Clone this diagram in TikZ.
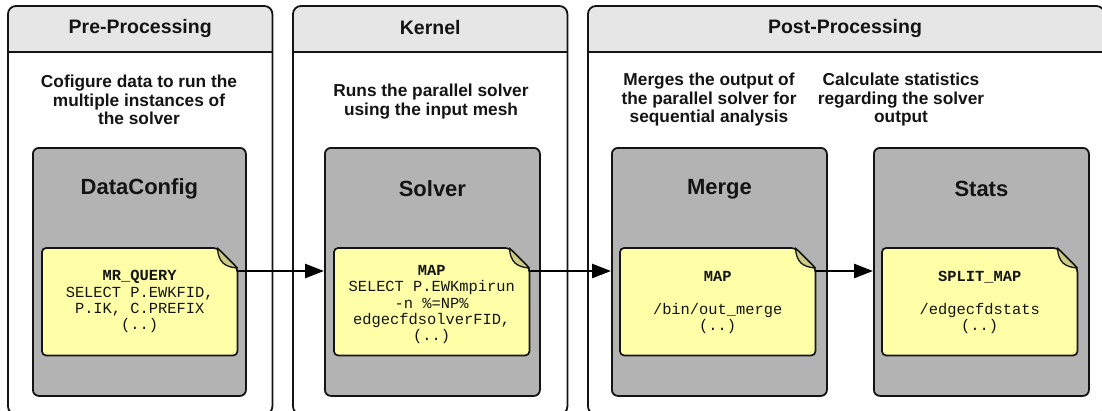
\documentclass[tikz,border=0pt]{standalone}
\usepackage{fontspec}
\setmainfont{Liberation Sans}
\setmonofont{Liberation Mono}
\usetikzlibrary{arrows.meta,calc}

\definecolor{headgray}{HTML}{E6E6E6}
\definecolor{boxgray}{HTML}{B3B3B3}
\definecolor{noteyellow}{HTML}{FFFFA8}
\definecolor{foldolive}{HTML}{CCCC88}
\definecolor{ink}{HTML}{141414}

% folded-corner note drawn around a placeholder node
\newcommand{\dogearnote}[1]{%
  \draw[noteline] (#1.north west) -- ($(#1.north east)+(-20,0)$)
        -- ($(#1.north east)+(0,20)$) -- (#1.south east) -- (#1.south west) -- cycle;
  \draw[foldline] ($(#1.north east)+(-20,0)$)
        .. controls ($(#1.north east)+(-19,14)$) and ($(#1.north east)+(-13,19)$)
        .. ($(#1.north east)+(0,20)$) -- cycle;
}

\begin{document}
\begin{tikzpicture}[x=1pt,y=-1pt,
  lanebg/.style={fill=white, draw=none, inner sep=0pt, anchor=north west, minimum height=408pt},
  laneborder/.style={draw=ink, line width=1.8pt, rounded corners=8pt},
  headrule/.style={draw=ink, line width=1.6pt},
  headtxt/.style={font=\fontsize{19.5}{22}\selectfont\bfseries, text=ink, inner sep=0pt},
  desctxt/.style={font=\fontsize{17.3}{18.5}\selectfont\bfseries, text=ink, align=center, inner sep=0pt},
  procbox/.style={draw=ink, fill=boxgray, line width=1.8pt, rounded corners=6pt,
                  inner sep=0pt, anchor=north west, minimum height=248pt},
  boxtitle/.style={font=\fontsize{22}{24}\selectfont\bfseries, text=ink, inner sep=0pt},
  notearea/.style={draw=none, inner sep=0pt, anchor=north west, minimum width=195pt, minimum height=107pt},
  noteline/.style={draw=ink, fill=noteyellow, line width=1.7pt, rounded corners=4pt, line join=round},
  foldline/.style={draw=ink, fill=foldolive, line width=1.3pt, line join=round},
  notetxt/.style={font=\fontsize{15.4}{16.3}\selectfont\ttfamily, text=ink, align=center, inner sep=0pt},
  flow/.style={draw=black, line width=2.6pt, -{Triangle[length=19pt,width=14pt]}},
]
\useasboundingbox (0,0) rectangle (1102,410);
\clip (0,0) rectangle (1102,410);
\coordinate (hl) at (0,52);

% ---------- swimlanes ----------
\node[lanebg, minimum width=264pt] (pre)  at (8,6)   {};
\node[lanebg, minimum width=274pt] (kern) at (293,6) {};
\node[lanebg, minimum width=516pt] (post) at (588,6) {};

\foreach \l in {pre,kern,post}{
  \fill[headgray] (\l.west |- hl) {[rounded corners=8pt] -- (\l.north west) -- (\l.north east)} -- (\l.east |- hl) -- cycle;
  \draw[headrule] (\l.west |- hl) -- (\l.east |- hl);
  \draw[laneborder] (\l.south west) rectangle (\l.north east);
}

\node[headtxt] (preT)  at ($(pre.north)+(0,22)$)  {Pre-Processing};
\node[headtxt] (kernT) at ($(kern.north)+(0,22)$) {Kernel};
\node[headtxt] (postT) at (845,28) {Post-Processing};

% ---------- stage descriptions ----------
\node[desctxt] (preD)   at (139,100)   {Cofigure data to run the\\multiple instances of\\the solver};
\node[desctxt] (kernD)  at (431,101.5) {Runs the parallel solver\\using the input mesh};
\node[desctxt] (mergeD) at (709,100)   {Merges the output of\\the parallel solver for\\sequential analysis};
\node[desctxt] (statsD) at (901,100)   {Calculate statistics\\regarding the solver\\output};

% ---------- processing boxes ----------
\node[procbox, minimum width=213pt] (dc) at (32,147)  {};
\node[procbox, minimum width=215pt] (sv) at (324,147) {};
\node[procbox, minimum width=215pt] (mg) at (611,147) {};
\node[procbox, minimum width=215pt] (st) at (873,147) {};

\node[boxtitle] (dcT) at ($(dc.north)+(0,42)$) {DataConfig};
\node[boxtitle] (svT) at ($(sv.north)+(0,42)$) {Solver};
\node[boxtitle] (mgT) at ($(mg.north)+(0,42)$) {Merge};
\node[boxtitle] (stT) at ($(st.north)+(0,42)$) {Stats};

% ---------- notes ----------
\node[notearea] (dcn) at (42,248)  {};
\dogearnote{dcn}
\node[notetxt] (dcnT) at (dcn.center)
  {\textbf{MR\_QUERY}\\SELECT P.EWKFID,\\P.IK, C.PREFIX\\(..)};

\node[notearea] (svn) at (334,248) {};
\dogearnote{svn}
\node[notetxt] (svnT) at ($(svn.center)+(0,3)$)
  {\textbf{MAP}\\SELECT P.EWKmpirun\\-n \%=NP\%\\edgecfdsolverFID,\\(..)};

\node[notearea] (mgn) at (620,248) {};
\dogearnote{mgn}
\node[notetxt] (mgnT) at ($(mgn.center)+(0,1)$)
  {\textbf{MAP}\\\mbox{}\\/bin/out\_merge\\(..)};

\node[notearea] (stn) at (882,248) {};
\dogearnote{stn}
\node[notetxt] (stnT) at ($(stn.center)+(0,1)$)
  {\textbf{SPLIT\_MAP}\\\mbox{}\\/edgecfdstats\\(..)};

% ---------- data flow ----------
\coordinate (a1) at ($(dcn.north east)+(0,23)$);
\coordinate (a2) at ($(svn.north east)+(0,23)$);
\coordinate (a3) at ($(mgn.north east)+(0,23)$);
\draw[flow] (a1) -- (a1 -| sv.west);
\draw[flow] (a2) -- (a2 -| mg.west);
\draw[flow] (a3) -- (a3 -| st.west);
\end{tikzpicture}
\end{document}
